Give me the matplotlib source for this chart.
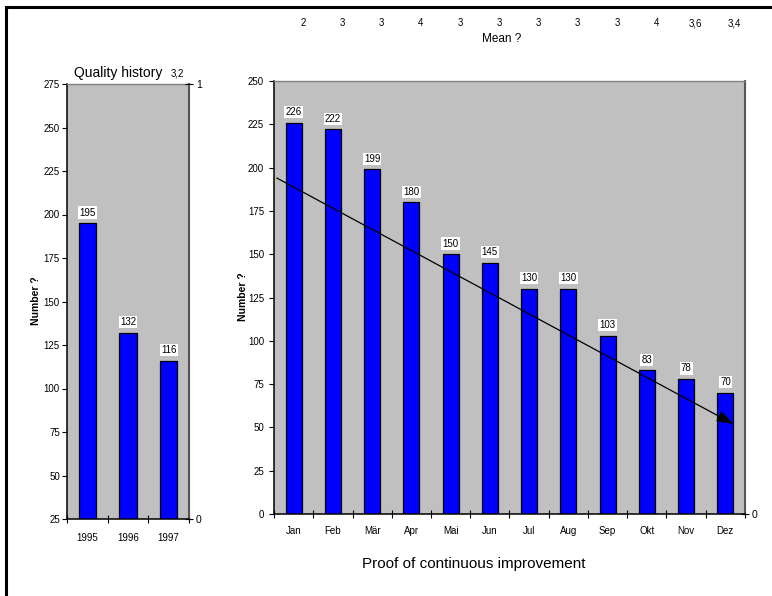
import matplotlib.pyplot as plt
import matplotlib.lines as mlines
import matplotlib.transforms as mtransforms
from matplotlib.patches import FancyArrowPatch

plt.rcParams['font.family'] = ['Liberation Sans', 'DejaVu Sans']

# data
years = ['1995', '1996', '1997']
year_counts = [195, 132, 116]

months = ['Jan', 'Feb', 'Mär', 'Apr', 'Mai', 'Jun', 'Jul', 'Aug', 'Sep', 'Okt', 'Nov', 'Dez']
month_counts = [226, 222, 199, 180, 150, 145, 130, 130, 103, 83, 78, 70]
month_means = ['2', '3', '3', '4', '3', '3', '3', '3', '3', '4', '3,6', '3,4']

# hand drawn trend arrow (category x, value y)
trend_start = (-0.43, 194)
trend_end = (11.2, 52)

BG = '#C0C0C0'
BAR = '#0000FF'
FS = 7

fig = plt.figure(figsize=(7.72, 5.96), dpi=100)

# outer frame, only top and left edges visible
fig.add_artist(mlines.Line2D([6 / 772, 6 / 772], [0, 1 - 7 / 596], color='black', lw=2.2,
                             transform=fig.transFigure))
fig.add_artist(mlines.Line2D([6 / 772, 1], [1 - 7 / 596, 1 - 7 / 596], color='black', lw=2.2,
                             transform=fig.transFigure))


def style_axes(ax, ypad):
    ax.set_facecolor(BG)
    ax.spines['left'].set_color('black')
    ax.spines['bottom'].set_color('black')
    ax.spines['left'].set_linewidth(1.1)
    ax.spines['bottom'].set_linewidth(1.1)
    ax.spines['top'].set_color('#808080')
    ax.spines['top'].set_linewidth(1.0)
    ax.spines['right'].set_color('#555555')
    ax.spines['right'].set_linewidth(1.5)
    ax.tick_params(axis='y', direction='out', length=3.6, width=0.8, pad=ypad, labelsize=FS)
    ax.tick_params(axis='x', which='major', length=0, labelsize=FS)
    ax.tick_params(axis='x', which='minor', direction='inout', length=6, width=0.8)


def bar_labels(ax, xs, vals):
    for x, v in zip(xs, vals):
        ax.annotate(str(v), (x, v), xytext=(0, 4), textcoords='offset points',
                    ha='center', va='bottom', fontsize=FS,
                    bbox=dict(boxstyle='square,pad=0.12', fc='white', ec='none'))


# left chart: quality history
ax1 = fig.add_axes([67 / 772, 1 - 519 / 596, 122 / 772, 435 / 596])
style_axes(ax1, 1.5)
x1 = list(range(len(years)))
ax1.bar(x1, year_counts, width=0.42, color=BAR, edgecolor='black', linewidth=0.9)
ax1.set_xlim(-0.5, len(years) - 0.5)
ax1.set_ylim(25, 275)
ax1.set_yticks(range(25, 276, 25))
ax1.set_xticks(x1)
ax1.set_xticklabels(years)
ax1.set_xticks([i - 0.5 for i in range(len(years) + 1)], minor=True)
ax1.tick_params(axis='x', which='major', pad=10)
bar_labels(ax1, x1, year_counts)

ax1r = ax1.twinx()
ax1r.set_ylim(0, 1)
ax1r.set_yticks([0, 1])
ax1r.set_yticklabels(['0', '1'])
ax1r.tick_params(axis='y', direction='inout', length=6, width=0.8, labelsize=7.5, pad=2)
for s in ax1r.spines.values():
    s.set_visible(False)

fig.text(118 / 772, 1 - 73 / 596, 'Quality history', ha='center', va='center', fontsize=10)
fig.text(177 / 772, 1 - 74 / 596, '3,2', ha='center', va='center', fontsize=FS)
fig.text(36 / 772, 1 - 301 / 596, 'Number ?', ha='center', va='center', rotation=90,
         fontsize=7.5, fontweight='bold')

# right chart: monthly
ax2 = fig.add_axes([274 / 772, 1 - 514 / 596, 471 / 772, 433 / 596])
style_axes(ax2, 3.5)
x2 = list(range(len(months)))
ax2.bar(x2, month_counts, width=0.41, color=BAR, edgecolor='black', linewidth=0.9)
ax2.set_xlim(-0.5, len(months) - 0.5)
ax2.set_ylim(0, 250)
ax2.set_yticks(range(0, 251, 25))
ax2.set_xticks(x2)
ax2.set_xticklabels(months)
ax2.set_xticks([i - 0.5 for i in range(len(months) + 1)], minor=True)
ax2.tick_params(axis='x', which='major', pad=9)
bar_labels(ax2, x2, month_counts)

ax2r = ax2.twinx()
ax2r.set_ylim(0, 1)
ax2r.set_yticks([0])
ax2r.set_yticklabels(['0'])
ax2r.tick_params(axis='y', direction='inout', length=6, width=0.8, labelsize=7.5, pad=2)
for s in ax2r.spines.values():
    s.set_visible(False)

# trend arrow, drawn in the bar axes' data coordinates
arrow = FancyArrowPatch(trend_start, trend_end, transform=ax2.transData,
                        arrowstyle='-|>,head_length=1.0,head_width=0.35',
                        mutation_scale=10, color='black', lw=0.9,
                        shrinkA=0, shrinkB=0, zorder=5)
ax2.add_patch(arrow)

# mean row above the chart
top_trans = mtransforms.blended_transform_factory(ax2.transData, fig.transFigure)
for x, m in zip(x2, month_means):
    ax2.text(x + 0.24, 1 - 23 / 596, m, transform=top_trans, ha='center', va='center',
             fontsize=FS, clip_on=False)

fig.text(502 / 772, 1 - 39 / 596, 'Mean ?', ha='center', va='center', fontsize=8.5)
fig.text(243 / 772, 1 - 297 / 596, 'Number ?', ha='center', va='center', rotation=90,
         fontsize=7.5, fontweight='bold')
fig.text(474 / 772, 1 - 564 / 596, 'Proof of continuous improvement', ha='center',
         va='center', fontsize=11)

fig.savefig('out.png', dpi=100)
